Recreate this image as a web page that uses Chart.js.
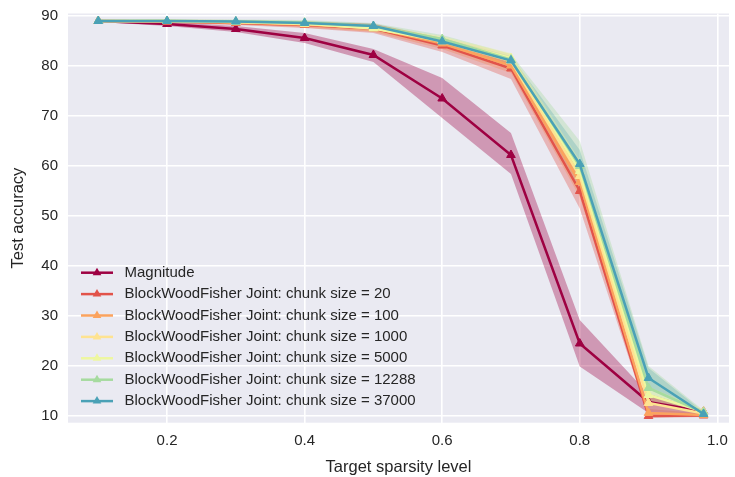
<!DOCTYPE html>
<html>
<head>
<meta charset="utf-8">
<script src="https://cdn.jsdelivr.net/npm/chart.js@4"></script>
<style>
  html, body { margin: 0; padding: 0; background: #ffffff; }
  #wrap { width: 735px; height: 477px; }
</style>
</head>
<body>
<div id="wrap"><canvas id="chart" width="735" height="477"></canvas></div>
<script>
// data
const sparsity = [0.1, 0.2, 0.3, 0.4, 0.5, 0.6, 0.7, 0.8, 0.9, 0.98];
const xTicks = [0.2, 0.4, 0.6, 0.8, 1.0];
const yTicks = [10, 20, 30, 40, 50, 60, 70, 80, 90];

const seriesNames = [
  'Magnitude',
  'BlockWoodFisher Joint: chunk size = 20',
  'BlockWoodFisher Joint: chunk size = 100',
  'BlockWoodFisher Joint: chunk size = 1000',
  'BlockWoodFisher Joint: chunk size = 5000',
  'BlockWoodFisher Joint: chunk size = 12288',
  'BlockWoodFisher Joint: chunk size = 37000'
];
const colors = ['#9e0142', '#e2534a', '#fba35e', '#fee391', '#eef7a0', '#a6db9f', '#4aa1b6'];

const magnitude = [89.0, 88.4, 87.4, 85.6, 82.2, 73.5, 62.2, 24.5, 12.8, 10.9];
const chunk20 = [89.0, 88.9, 88.6, 88.2, 87.5, 84.1, 79.5, 55.0, 10.0, 10.1];
const chunk100 = [89.0, 88.9, 88.7, 88.3, 87.6, 84.5, 80.1, 56.8, 10.6, 10.2];
const chunk1000 = [89.0, 89.0, 88.8, 88.4, 87.6, 84.9, 81.0, 58.0, 12.6, 10.5];
const chunk5000 = [89.0, 89.0, 88.8, 88.5, 87.5, 85.1, 81.6, 59.0, 14.2, 10.9];
const chunk12288 = [89.0, 89.0, 88.9, 88.7, 88.0, 85.4, 81.3, 60.0, 15.6, 10.7];
const chunk37000 = [89.0, 89.0, 88.9, 88.6, 88.0, 84.9, 81.1, 60.4, 17.6, 10.4];

// shaded band: lower / upper edges
const magnitudeLo = [88.8, 88.0, 86.8, 84.6, 80.8, 69.6, 58.4, 19.9, 10.6, 10.2];
const magnitudeHi = [89.2, 88.8, 88.0, 86.6, 83.4, 77.6, 66.6, 29.2, 14.4, 11.2];
const chunk20Lo = [88.8, 88.6, 88.2, 87.6, 86.6, 82.8, 77.4, 51.5, 9.6, 9.8];
const chunk20Hi = [89.2, 89.2, 89.0, 88.8, 88.4, 85.4, 81.6, 58.5, 10.6, 10.4];
const chunk100Lo = [88.8, 88.6, 88.3, 87.7, 86.8, 83.4, 78.6, 53.8, 10.0, 9.9];
const chunk100Hi = [89.2, 89.2, 89.1, 88.9, 88.4, 85.6, 81.6, 59.8, 11.4, 10.5];
const chunk1000Lo = [88.8, 88.7, 88.4, 87.9, 86.9, 84.0, 79.8, 55.8, 11.2, 10.2];
const chunk1000Hi = [89.2, 89.3, 89.2, 88.9, 88.3, 85.8, 82.4, 60.2, 14.0, 10.8];
const chunk5000Lo = [88.8, 88.7, 88.4, 88.0, 86.9, 84.2, 80.6, 56.8, 12.6, 10.4];
const chunk5000Hi = [89.2, 89.3, 89.2, 89.0, 88.1, 86.0, 82.6, 61.2, 15.8, 11.4];
const chunk12288Lo = [88.8, 88.7, 88.5, 88.2, 87.4, 84.6, 80.2, 55.5, 13.2, 10.3];
const chunk12288Hi = [89.2, 89.3, 89.3, 89.2, 88.6, 86.2, 82.4, 65.0, 20.0, 11.1];
const chunk37000Lo = [88.8, 88.7, 88.6, 88.2, 87.5, 84.2, 80.2, 57.6, 15.6, 10.2];
const chunk37000Hi = [89.2, 89.3, 89.2, 89.0, 88.5, 85.6, 82.0, 63.2, 19.6, 10.8];

const means = [magnitude, chunk20, chunk100, chunk1000, chunk5000, chunk12288, chunk37000];
const lows = [magnitudeLo, chunk20Lo, chunk100Lo, chunk1000Lo, chunk5000Lo, chunk12288Lo, chunk37000Lo];
const highs = [magnitudeHi, chunk20Hi, chunk100Hi, chunk1000Hi, chunk5000Hi, chunk12288Hi, chunk37000Hi];

const FONT = "'Liberation Sans', Arial, sans-serif";
const TEXT = '#262626';

function pts(vals) {
  return vals.map((v, i) => ({ x: sparsity[i], y: v }));
}
function alpha(hex, a) {
  const n = parseInt(hex.slice(1), 16);
  return `rgba(${(n >> 16) & 255}, ${(n >> 8) & 255}, ${n & 255}, ${a})`;
}

const datasets = [];
// bands first
means.forEach((m, i) => {
  datasets.push({
    label: '_hi' + i, data: pts(highs[i]), showLine: true,
    borderWidth: 0, pointRadius: 0, fill: false, order: 20 + i,
    borderColor: 'rgba(0,0,0,0)'
  });
  datasets.push({
    label: '_lo' + i, data: pts(lows[i]), showLine: true,
    borderWidth: 0, pointRadius: 0, fill: '-1', order: 20 + i,
    borderColor: 'rgba(0,0,0,0)', backgroundColor: alpha(colors[i], 0.35)
  });
});
// then the mean lines, last series on top
means.forEach((m, i) => {
  datasets.push({
    label: seriesNames[i], data: pts(m), showLine: true,
    borderColor: colors[i], backgroundColor: colors[i],
    borderWidth: 2.5, pointStyle: 'triangle', pointRadius: 5,
    pointBackgroundColor: colors[i], pointBorderColor: colors[i], pointBorderWidth: 1,
    fill: false, order: 10 - i
  });
});

const bgPlugin = {
  id: 'bg',
  beforeDraw(chart) {
    const { ctx, chartArea: a } = chart;
    ctx.save();
    ctx.fillStyle = '#eaeaf2';
    ctx.fillRect(a.left, a.top, a.right - a.left, a.bottom - a.top);
    ctx.restore();
  }
};

const legendPlugin = {
  id: 'innerLegend',
  afterDraw(chart) {
    const ctx = chart.ctx;
    ctx.save();
    ctx.font = `15px ${FONT}`;
    ctx.textBaseline = 'middle';
    seriesNames.forEach((name, i) => {
      const y = 272.7 + i * 21.4;
      ctx.strokeStyle = colors[i];
      ctx.lineWidth = 2.5;
      ctx.beginPath();
      ctx.moveTo(81, y);
      ctx.lineTo(113, y);
      ctx.stroke();
      ctx.fillStyle = colors[i];
      const r = 5;
      ctx.beginPath();
      ctx.moveTo(97, y - r);
      ctx.lineTo(97 + r * 0.866, y + r * 0.5);
      ctx.lineTo(97 - r * 0.866, y + r * 0.5);
      ctx.closePath();
      ctx.fill();
      ctx.fillStyle = TEXT;
      ctx.fillText(name, 124.5, y);
    });
    ctx.restore();
  }
};

new Chart(document.getElementById('chart'), {
  type: 'scatter',
  data: { datasets: datasets },
  options: {
    responsive: false,
    animation: false,
    devicePixelRatio: 1,
    layout: { padding: { top: 13.5, right: 0, bottom: 0, left: 0 } },
    plugins: {
      legend: { display: false },
      tooltip: { enabled: false }
    },
    scales: {
      x: {
        type: 'linear', min: 0.056, max: 1.017,
        afterBuildTicks: s => { s.ticks = xTicks.map(v => ({ value: v })); },
        afterFit: s => { s.height = 54.3; s.paddingLeft = 0; s.paddingRight = 0; },
        grid: { color: '#ffffff', lineWidth: 1.6, drawTicks: false },
        border: { display: false },
        ticks: {
          font: { family: FONT, size: 15 }, color: TEXT, padding: 9,
          callback: v => v.toFixed(1)
        },
        title: {
          display: true, text: 'Target sparsity level', color: TEXT,
          font: { family: FONT, size: 16.5 }, padding: { top: 0, bottom: 0 }
        }
      },
      y: {
        type: 'linear', min: 8.66, max: 90.5,
        afterBuildTicks: s => { s.ticks = yTicks.map(v => ({ value: v })); },
        afterFit: s => { s.width = 68; s.paddingTop = 0; s.paddingBottom = 0; },
        grid: { color: '#ffffff', lineWidth: 1.6, drawTicks: false },
        border: { display: false },
        ticks: {
          font: { family: FONT, size: 15 }, color: TEXT, padding: 10,
          callback: v => String(v)
        },
        title: {
          display: true, text: 'Test accuracy', color: TEXT,
          font: { family: FONT, size: 16.5 }, padding: { top: 8.6, bottom: 0 }
        }
      }
    }
  },
  plugins: [bgPlugin, legendPlugin]
});
</script>
</body>
</html>
